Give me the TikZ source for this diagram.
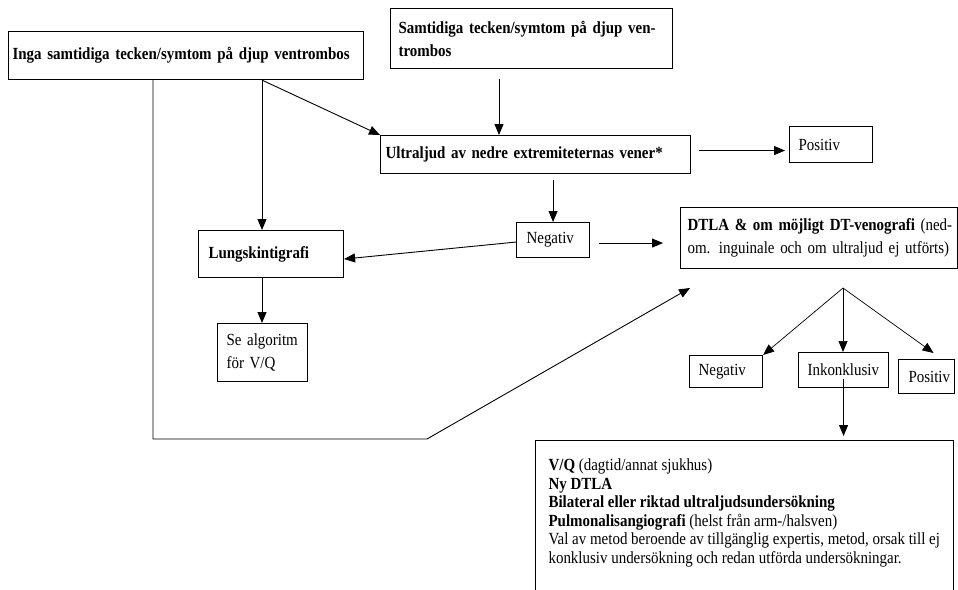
\documentclass[tikz,border=0pt]{standalone}
\usepackage{fontspec}
\setmainfont{Liberation Serif}[FakeStretch=0.88]
\usetikzlibrary{arrows.meta}
\begin{document}
\begin{tikzpicture}[x=1pt,y=-1pt,
  box/.style={draw, line width=1.1pt, anchor=north west, align=left,
              inner ysep=0pt, font=\fontsize{17}{23}\selectfont},
  arr/.style={line width=0.9pt, -{Triangle[length=11pt,width=9pt]}},
  thin arr/.style={line width=0.7pt, -{Triangle[length=11pt,width=9pt]}},
  ln/.style={line width=0.9pt}]
\useasboundingbox (0,0) rectangle (958,589);

% boxes
\node[box, inner xsep=4pt, text width=347pt, minimum height=48pt] (A) at (8,31)
  {\textbf{Inga samtidiga tecken/symtom på djup ventrombos}};
\node[box, inner xsep=8pt, text width=266pt, minimum height=60pt] (B) at (390,8)
  {\textbf{Samtidiga tecken/symtom på djup ven-}\\\textbf{trombos}};
\node[box, inner xsep=5pt, text width=300pt, minimum height=38pt] (C) at (380,135)
  {\textbf{Ultraljud av nedre extremiteternas vener*}};
\node[box, inner xsep=9pt, text width=65pt, minimum height=36pt] (P1) at (789,126)
  {Positiv};
\node[box, inner xsep=10pt, text width=125pt, minimum height=47pt] (L) at (198,230)
  {\textbf{Lungskintigrafi}};
\node[box, inner xsep=9pt, text width=72pt, minimum height=58pt] (SA) at (217,323)
  {Se algoritm\\för V/Q};
\node[box, inner xsep=10pt, text width=53pt, minimum height=35pt] (N1) at (516,222)
  {Negativ};
\node[box, inner xsep=7pt, text width=263pt, minimum height=61pt] (D) at (680,207)
  {\mbox{\textbf{DTLA \& om möjligt DT-venografi} (ned-}\\\mbox{om. inguinale och om ultraljud ej utförts)}};
\node[box, inner xsep=9pt, text width=55pt, minimum height=32pt] (N2) at (689,355)
  {Negativ};
\node[box, inner xsep=9pt, text width=72pt, minimum height=35pt] (I) at (798,352)
  {Inkonklusiv};
\node[box, inner xsep=10pt, text width=36pt, minimum height=34pt] (P2) at (898,359)
  {Positiv};
\node[box, inner xsep=13pt, inner ysep=17pt, font=\fontsize{17}{18.5}\selectfont] (Bot) at (535,440)
  {\parbox[c][150pt][t]{392pt}{\raggedright\strut
   \textbf{V/Q} (dagtid/annat sjukhus)\\
   \textbf{Ny DTLA}\\
   \textbf{Bilateral eller riktad ultraljudsundersökning}\\
   \textbf{Pulmonalisangiografi} (helst från arm-/halsven)\\
   Val av metod beroende av tillgänglig expertis, metod, orsak till ej\\
   konklusiv undersökning och redan utförda undersökningar.}};

% connectors
\coordinate (a1) at ([xshift=145pt]A.south west);
\coordinate (a2) at ([xshift=254pt]A.south west);
\coordinate (bend) at (427,439);
\coordinate (dtip) at (690,288);
\coordinate (split) at (843,288);

\draw[arr] (a2) -- (C.north west);
\draw[arr] (a2) -- (a2 |- L.north);
\draw[arr] (a2 |- L.south) -- (a2 |- SA.north);
\draw[arr] ([xshift=109pt,yshift=-10pt]B.south west) coordinate (b1) -- (b1 |- C.north);
\draw[arr] ([xshift=8pt,yshift=4pt]C.east) coordinate (c1) -- ([xshift=-4pt]c1 -| P1.west);
\draw[arr] ([yshift=-6pt]C.south -| N1.north) -- (N1.north);
\draw[arr] ([yshift=-2pt]N1.west) -- ([yshift=-5pt]L.east);
\draw[arr] ([xshift=9pt,yshift=-3pt]N1.east) coordinate (n1) -- ([xshift=-17pt]n1 -| D.west);
\draw[arr] (a1) -- (a1 |- bend) -- (bend) -- (dtip);
\draw[thin arr] (split) -- (N2.north east);
\draw[thin arr] (split) -- (split |- I.north);
\draw[thin arr] (split) -- ([xshift=7pt,yshift=6pt]P2.north);
\draw[arr] ([yshift=9pt]I.south) -- ([yshift=4pt]I.south |- Bot.north);
\end{tikzpicture}
\end{document}
